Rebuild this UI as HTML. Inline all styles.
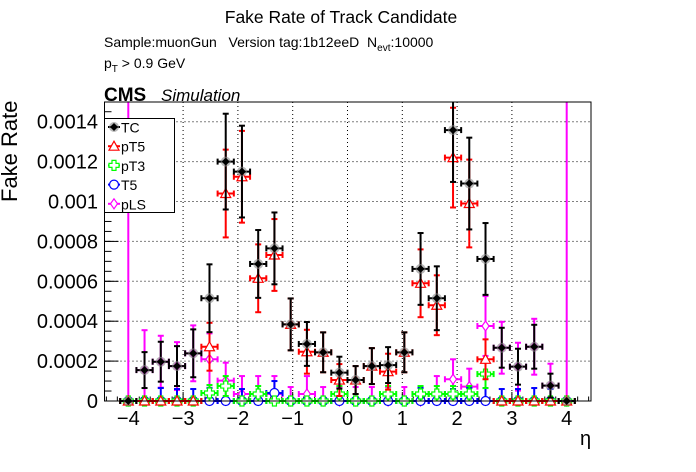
<!DOCTYPE html>
<html><head><meta charset="utf-8"><style>
body{margin:0;background:#fff;}
svg{display:block;font-family:"Liberation Sans",sans-serif;}
</style></head><body>
<svg id="chart" width="696" height="472" viewBox="0 0 696 472" xmlns="http://www.w3.org/2000/svg">
<rect width="696" height="472" fill="#fff"/>
<text x="341" y="23" font-size="17.5" text-anchor="middle">Fake Rate of Track Candidate</text>
<text x="104" y="47" font-size="14" style="white-space:pre">Sample:muonGun   Version tag:1b12eeD  N<tspan font-size="10" dy="4">evt</tspan><tspan dy="-4">:10000</tspan></text>
<text x="104" y="68" font-size="14">p<tspan font-size="10" dy="4">T</tspan><tspan dy="-4"> &gt; 0.9 GeV</tspan></text>
<text x="104" y="101" font-size="19" font-weight="bold">CMS</text>
<text x="161" y="101" font-size="17" font-style="italic">Simulation</text>
<text transform="translate(17,202) rotate(-90)" font-size="22">Fake Rate</text>
<text x="580" y="445" font-size="20">η</text>
<g id="grid"></g>
<g id="axes"></g>
<g id="series"></g>
<rect x="104.5" y="102" width="486.5" height="299" fill="none" stroke="#000" stroke-width="1"/>
<g id="legend"></g>
</svg>
<script>
const eta = [-4,-3.7037,-3.4074,-3.1111,-2.8148,-2.5185,-2.2222,-1.9259,-1.6296,-1.3333,-1.037,-0.7407,-0.4444,-0.1481,0.1481,0.4444,0.7407,1.037,1.3333,1.6296,1.9259,2.2222,2.5185,2.8148,3.1111,3.4074,3.7037,4];
const tcVals = [0,0.000155,0.000197,0.000175,0.000239,0.000515,0.0012,0.00115,0.000687,0.000765,0.000384,0.000286,0.000244,0.000142,0.000105,0.000175,0.00018,0.000244,0.000662,0.000515,0.001358,0.00109,0.000712,0.000267,0.000172,0.000272,0.000077,0];
const tcErr = [0,0.00009,0.0001,0.0001,0.00012,0.00017,0.00024,0.00023,0.00017,0.00018,0.00013,0.00011,0.0001,0.00008,0.00007,0.00009,0.00009,0.0001,0.00018,0.00016,0.00026,0.00023,0.00018,0.0001,0.00009,0.00011,0.00006,0];
const pt5Vals = [0,0,0,0,0,0.000272,0.00104,0.001124,0.000615,0.000732,0.000384,0.000247,0.000244,0.000105,0.000105,0.000175,0.000147,0.000244,0.00059,0.00048,0.00122,0.00099,0.000209,0,0,0,0,0];
const pt5Err = [0,0,0,0,0,0.00012,0.00022,0.00023,0.00017,0.00018,0.00013,0.00011,0.0001,0.00008,0.00007,0.00009,0.00009,0.0001,0.00017,0.00015,0.00025,0.00022,0.0001,0,0,0,0,0];
const pt3Vals = [0,0,0,0,0,0.00004,0.000075,0,0.000035,0,0,0,0,0.000035,0,0,0.000035,0,0.000035,0.000035,0.000035,0.000035,0.000135,0,0,0,0,0];
const pt3Err = [0,0,0,0,0,0.00004,0.00005,0,0.00004,0,0,0,0,0.00004,0,0,0.00004,0,0.00004,0.00004,0.00004,0.00004,0.00007,0,0,0,0,0];
const t5Vals = [0,0,0,0,0,0,0,0,0,0.00004,0,0,0,0,0,0,0,0,0,0,0,0,0,0,0,0,0,0];
const t5Err = [0,0,0.000065,0.00006,0.00006,0.000065,0,0.00006,0,0.00006,0,0,0,0,0,0,0,0,0.000065,0,0.00006,0.000065,0.000065,0.00006,0.00006,0.000065,0.00006,0];
const plsVals = [0,0.000155,0.000197,0.000175,0.000239,0.000209,0.000102,0.000035,0.000035,0.000035,0,0.000035,0,0,0,0,0,0,0,0.000035,0.000109,0.000072,0.000376,0.000267,0.000172,0.000272,0.000077,0];
const plsErr = [0.0015,0.0002,0.00013,0.00012,0.00014,0.00013,0.00009,0.00009,0.00009,0.00009,0.00007,0.00009,0.00007,0.00007,0.00007,0.00007,0.00007,0.00007,0.00007,0.00009,0.0001,0.00009,0.00015,0.00013,0.00012,0.00014,0.00011,0.0015];
const xTicks = [-4,-3,-2,-1,0,1,2,3,4];
const yTicks = [0,0.0002,0.0004,0.0006,0.0008,0.001,0.0012,0.0014];
const yTickLabels = ["0","0.0002","0.0004","0.0006","0.0008","0.001","0.0012","0.0014"];

const NS="http://www.w3.org/2000/svg";
const X0=104.5,X1=591,Y0=401,Y1=102;
function xs(v){return 347.5+v*54.8;}
function ys(v){return Y0-v*199500;}
function mk(tag,attrs,parent){const e=document.createElementNS(NS,tag);for(const k in attrs)e.setAttribute(k,attrs[k]);parent.appendChild(e);return e;}
const grid=document.getElementById('grid'),axes=document.getElementById('axes'),ser=document.getElementById('series'),leg=document.getElementById('legend');
xTicks.forEach(t=>{
  const x=xs(t);
  const g=mk('line',{x1:x,x2:x,y1:Y1,y2:Y0,stroke:'#000','stroke-dasharray':'1,3','stroke-width':1},grid);
  
  
  mk('line',{x1:x,x2:x,y1:Y0,y2:Y0-9,stroke:'#000'},axes);
  const lb=mk('text',{x:x,y:425,'font-size':20,'text-anchor':'middle'},axes);
  lb.textContent=(t<0?'\u2212'+(-t):String(t));
  
  
});
for(let v=-4.4;v<=4.45;v+=0.2){const x=xs(v);mk('line',{x1:x,x2:x,y1:Y0,y2:Y0-4.5,stroke:'#000'},axes);}
yTicks.forEach((t,i)=>{
  const y=ys(t);
  if(i>0){const g=mk('line',{x1:X0,x2:X1,y1:y,y2:y,stroke:'#000','stroke-dasharray':'1,3','stroke-width':1},grid);
  
  }
  mk('line',{x1:X0,x2:X0+14,y1:y,y2:y,stroke:'#000'},axes);
  const lb=mk('text',{x:98,y:y+7,'font-size':20,'text-anchor':'end'},axes);
  lb.textContent=yTickLabels[i];
  
  
});
for(let v=0;v<0.00149;v+=0.00005){const y=ys(v);mk('line',{x1:X0,x2:X0+7,y1:y,y2:y,stroke:'#000'},axes);}
const hw=0.148;
function marker(type,x,y,col,g){
  if(type==='tc'){mk('circle',{cx:x,cy:y,r:5,fill:'#888',opacity:0.6},g);mk('path',{d:`M${x-4},${y}L${x},${y-4}L${x+4},${y}L${x},${y+4}Z`,fill:'#000'},g);}
  else if(type==='pt5'){mk('path',{d:`M${x-5},${y+4}L${x},${y-5}L${x+5},${y+4}Z`,fill:'#fff',stroke:col,'stroke-width':1.2},g);}
  else if(type==='pt3'){mk('path',{d:`M${x-2},${y-5}h4v3h3v4h-3v3h-4v-3h-3v-4h3Z`,fill:'#fff',stroke:col,'stroke-width':1.2},g);}
  else if(type==='t5'){mk('circle',{cx:x,cy:y,r:4.5,fill:'#fff',stroke:col,'stroke-width':1.2},g);}
  else {mk('path',{d:`M${x},${y-5}L${x+3.5},${y}L${x},${y+5}L${x-3.5},${y}Z`,fill:'#fff',stroke:col,'stroke-width':1.2},g);}
}
function drawSeries(name,type,vals,errs,col){
  const g=mk('g',{},ser);
  
  
  vals.forEach((v,i)=>{
    const x=xs(eta[i]),y=ys(v),xl=xs(eta[i]-hw),xr=xs(eta[i]+hw);
    const pg=mk('g',{},g);
    
    
    mk('line',{x1:xl,x2:xr,y1:y,y2:y,stroke:col,'stroke-width':2},pg);
    mk('line',{x1:xl,x2:xl,y1:y-3,y2:y+3,stroke:col,'stroke-width':2},pg);
    mk('line',{x1:xr,x2:xr,y1:y-3,y2:y+3,stroke:col,'stroke-width':2},pg);
    const e=errs[i];
    if(e>0){
      const yt=Math.max(ys(v+e),Y1),yb=Math.min(ys(Math.max(v-e,0)),Y0);
      mk('line',{x1:x,x2:x,y1:yt,y2:yb,stroke:col,'stroke-width':2},pg);
      if(yt>Y1) mk('line',{x1:x-3,x2:x+3,y1:yt,y2:yt,stroke:col,'stroke-width':2},pg);
      if(v-e>0) mk('line',{x1:x-3,x2:x+3,y1:yb,y2:yb,stroke:col,'stroke-width':2},pg);
    }
    marker(type,x,y,col,pg);
  });
}
drawSeries('pls','pls',plsVals,plsErr,'#ff00ff');
drawSeries('t5','t5',t5Vals,t5Err,'#0000ff');
drawSeries('pt3','pt3',pt3Vals,pt3Err,'#00ff00');
drawSeries('pt5','pt5',pt5Vals,pt5Err,'#ff0000');
drawSeries('tc','tc',tcVals,tcErr,'#000000');
mk('rect',{x:104.5,y:118.5,width:70,height:94,fill:'#fff',stroke:'#000'},leg);
const legItems=[['TC','tc','#000'],['pT5','pt5','#ff0000'],['pT3','pt3','#00ff00'],['T5','t5','#0000ff'],['pLS','pls','#ff00ff']];
legItems.forEach((it,i)=>{
  const y=127+i*19.2;
  const g=mk('g',{},leg);
  
  
  mk('line',{x1:108,x2:120,y1:y,y2:y,stroke:it[2],'stroke-width':2},g);
  marker(it[1],114,y,it[2],g);
  const t=mk('text',{x:121,y:y+5.5,'font-size':14},g);
  t.textContent=it[0];
});
</script>
</body></html>
